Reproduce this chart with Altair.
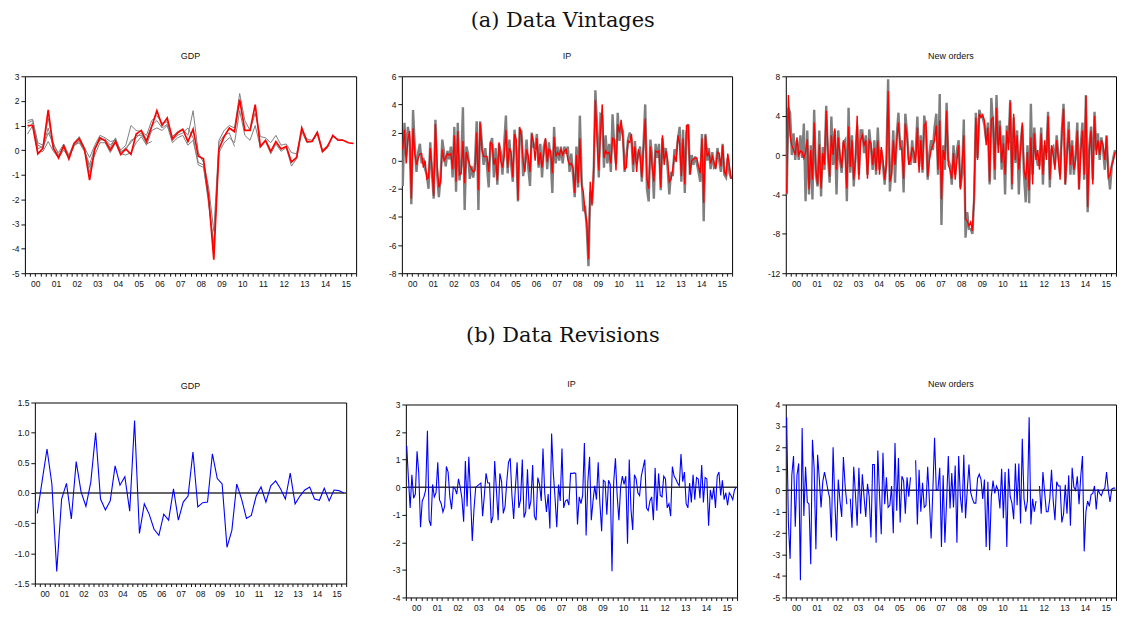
import altair as alt
import pandas as pd

FONT = "Liberation Sans"
SERIF = "DejaVu Serif"

# ---------------- GDP (quarterly, 2000Q1-2015Q4) ----------------
gdp_final = [1.0, 1.0, -0.15, 0.08, 1.64, 0.08, -0.32, 0.17,
             -0.36, 0.27, 0.47, 0.05, -1.22, 0.05, 0.5, 0.38,
             0.0, 0.35, -0.18, 0.05, -0.17, 0.65, 0.8, 0.35,
             0.95, 1.6, 1.0, 1.3, 0.45, 0.7, 0.85, 0.35,
             0.85, -0.25, -0.35, -1.9, -4.45, 0.05, 0.55, 0.9,
             0.75, 2.05, 0.8, 0.8, 1.85, 0.15, 0.4, -0.05,
             0.35, 0.05, 0.15, -0.48, -0.3, 0.9, 0.35, 0.35,
             0.72, -0.05, 0.15, 0.6, 0.4, 0.4, 0.3, 0.27]
gdp_vintage_1 = [1.2, 1.25, 0.3, 0.2, 1.3, 0.2, -0.1, 0.25,
                 -0.2, 0.3, 0.55, 0.1, -0.3, 0.2, 0.6, 0.5,
                 0.35, 0.4, 0.0, 0.2, 1.0, 0.8, 0.75, 0.6,
                 1.2, 1.4, 1.1, 1.15, 0.55, 0.75, 0.85, 0.6,
                 1.6, -0.1, -0.5, -1.5, -3.3, 0.4, 0.8, 1.0,
                 0.9, 2.3, 1.2, 0.8, 1.5, 0.55, 0.5, 0.3,
                 0.6, 0.2, 0.25, -0.1, -0.15, 0.8, 0.45, 0.4,
                 0.75, 0.0, 0.2, 0.55, 0.45, 0.42]
gdp_vintage_2 = [0.65, 1.0, -0.1, -0.05, 0.35, -0.05, -0.3, 0.0,
                 -0.3, 0.2, 0.3, -0.05, -0.7, -0.2, 0.3, 0.3,
                 -0.1, 0.3, -0.15, -0.2, -0.1, 0.3, 0.55, 0.2,
                 0.8, 0.9, 0.8, 1.0, 0.3, 0.5, 0.6, 0.2,
                 0.4, -0.6, -0.7, -2.0, -4.0, -0.1, 0.3, 0.5,
                 0.3, 1.6, 0.6, 0.4, 1.0, 0.1, 0.35, -0.15,
                 0.25, -0.05, 0.1, -0.65, -0.35, 0.75, 0.3, 0.35,
                 0.65, -0.1, 0.1]
gdp_vintage_3 = [0.9, 1.1, 0.2, 0.1, 0.7, 0.3, -0.2, 0.1,
                 -0.25, 0.15, 0.4, 0.0, -0.6, 0.1, 0.4, 0.45,
                 0.2, 0.45, -0.1, 0.1, 0.3, 0.6, 0.6, 0.45,
                 1.0, 1.2, 0.9, 1.05, 0.4, 0.6, 0.7, 0.9,
                 0.5, -0.5, -0.6, -2.2, -3.8, 0.3, 0.6, 0.7,
                 0.15]
gdp_vintage_4 = [1.1, 1.2, 0.05, 0.15, 0.9, 0.1, -0.25, 0.2,
                 -0.3, 0.25, 0.35, 0.05, -0.9, 0.0, 0.45, 0.4,
                 0.1, 0.5, -0.05, 0.0, 0.4, 0.5, 0.7, 0.25, 0.35]
gdp_revision = [-0.34, 0.2, 0.73, 0.15, -1.3, -0.1, 0.16, -0.43,
                0.52, 0.02, -0.22, 0.18, 1.0, -0.1, -0.28, -0.13,
                0.45, 0.13, 0.27, -0.3, 1.2, -0.67, -0.18, -0.35,
                -0.6, -0.7, -0.35, -0.45, 0.07, -0.45, -0.15, -0.05,
                0.68, -0.23, -0.16, -0.15, 0.65, 0.24, 0.15, -0.9,
                -0.62, 0.15, -0.1, -0.42, -0.37, -0.05, 0.1, -0.15,
                0.12, 0.2, 0.07, -0.1, 0.33, -0.18, -0.05, 0.05,
                0.1, -0.1, -0.12, 0.08, -0.13, 0.05, 0.04, 0.0]

# ---------------- IP (monthly, 2000M01-2015M12) ----------------
ip_final = [0.8, 2.2, -0.2, 1.5, 2.1, -2.7, 2.3, 0.5, -0.3, 0.2, 0.5, 0.5,
            -0.5, 0.0, -1.3, -1.2, 0.9, -0.5, -2.5, 2.6, -0.3, -1.9, -1.5, 0.8,
            0.0, 0.2, 0.5, 0.4, 0.5, -0.6, 1.8, -1.5, 2.1, -1.0, -0.9, 1.4,
            -1.6, 0.6, 0.1, -0.3, -0.6, -0.8, -0.7, 2.0, -2.1, 2.7, 0.8, 0.3,
            0.3, 0.3, -0.8, 1.3, 1.2, -0.3, 0.2, -1.4, 1.3, 0.0, -0.5, 0.3,
            2.2, -0.5, 0.9, 0.6, -1.2, 1.9, 1.5, -2.8, 2.4, 1.8, 0.0, -0.8,
            0.8, 0.3, -0.8, 1.9, 1.3, 0.0, 1.6, -0.3, 0.6, -0.5, 0.5, 1.6,
            -0.1, 0.8, 0.7, -0.9, 1.7, 0.3, 0.6, 0.4, 0.8, 0.4, 0.7, 0.8,
            0.1, -0.3, -0.2, -0.5, -2.3, 0.4, -1.6, 1.6, -1.8, -2.2, -3.6, -4.4,
            -7.0, -1.5, -3.1, -0.5, 4.3, 1.5, -0.7, 2.0, 4.0, 0.2, 0.7, 0.5,
            0.6, -0.2, 1.6, 1.5, -0.7, 2.6, 2.0, 2.9, 1.6, -0.6, -0.5, 1.4,
            1.3, 1.9, -0.3, 1.0, -0.8, 0.8, 0.3, -1.2, 0.9, 3.0, -1.3, -2.0,
            1.0, -0.4, -1.5, 0.7, 0.6, 0.7, -1.9, 1.8, -0.3, 0.7, 0.1, -1.5,
            -1.3, -0.6, 0.4, -0.1, 1.8, 1.2, -1.1, 1.6, -1.7, 2.5, 2.5, -1.0,
            0.0, 0.1, 0.2, 0.2, -0.4, -0.9, 1.6, -3.0, 1.8, 0.3, 0.6, -0.2,
            0.3, -0.1, -0.6, 0.6, 0.5, -0.4, 1.1, -0.8, -1.0, 0.5, -0.4, -1.3]
ip_vintage = [-1.8, 2.7, 0.3, 2.4, 1.5, -3.1, 3.6, 1.0, -0.8, 0.6, 1.2, -0.2,
              0.2, -0.6, -1.0, -2.0, 1.3, -0.9, -2.7, 2.9, -1.0, -2.6, -1.2, 1.5,
              0.6, -0.4, 0.7, 0.1, 1.0, -1.2, 2.4, -2.2, 2.7, -1.4, -0.3, 3.8,
              -3.5, 1.0, 0.5, -1.3, -0.4, -1.2, -0.2, 2.8, -3.5, 2.8, 1.3, -0.3,
              0.9, -0.4, -1.9, 1.2, 1.6, -1.2, 0.9, -1.7, 1.2, 0.6, -1.0, 1.2,
              3.2, -0.9, 1.5, -0.2, -1.5, 2.2, 0.8, -2.9, 2.2, 2.1, -1.1, -0.3,
              1.5, -0.5, -1.8, 2.0, 1.0, 0.9, 1.9, -0.5, 1.2, -1.2, 1.0, 1.5,
              -0.6, 1.3, 0.2, -2.3, 2.4, -0.2, 1.0, 0.0, 1.0, -0.2, 1.0, 0.5,
              1.0, -0.8, 0.5, -1.0, -2.6, 1.0, -1.9, 3.2, -1.2, -3.6, -3.2, -4.8,
              -7.5, -2.2, -3.2, -1.2, 5.0, 2.5, -1.2, 3.3, 3.2, -0.5, 1.8, -0.2,
              1.2, -0.8, 3.3, 1.0, -0.2, 3.4, 1.4, 2.4, 2.1, -0.8, 0.3, 1.5,
              2.0, 1.5, -0.8, 1.4, -0.2, 0.4, 1.0, -1.5, 1.2, 4.0, -2.0, -2.9,
              1.5, 0.3, -2.7, 1.2, 0.2, 1.2, -2.1, 1.6, 0.2, 0.9, -0.5, -2.4,
              -0.8, -1.1, 0.8, 0.4, 1.5, 2.4, -1.5, 2.2, -2.3, 2.0, 2.6, -1.0,
              0.4, -0.3, 0.3, -0.2, -0.8, -1.5, 1.9, -4.3, 1.9, 0.0, 0.9, -0.6,
              0.6, -0.5, -0.4, 0.9, 0.0, -0.8, 1.2, -1.0, -1.2, 0.2, -0.9, -1.3]
ip_revision = [1.5, 0.3, -0.75, 0.45, -0.4, -0.25, 1.3, 0.5, -1.45, -0.5, -0.35, -0.1,
               2.05, -1.2, -1.4, 0.1, -0.35, -0.2, 0.9, -0.45, -0.6, -0.9, -0.7, 0.75,
               0.55, -0.35, -0.8, 0.0, -0.05, -0.25, 0.3, 0.0, -0.4, -1.25, 0.95, -0.7,
               1.1, -0.3, -1.95, -0.8, 0.0, 0.05, 0.1, 0.15, -1.05, -0.3, 0.5, 0.15,
               0.15, -1.3, -1.05, 0.95, -0.1, -1.2, 0.5, 0.2, -0.95, -0.7, 0.2, 0.9,
               1.05, -0.3, -1.15, 0.0, 0.9, -0.75, -0.45, 1.0, -1.1, -0.9, 0.65, -0.8,
               -0.5, 0.8, -1.05, -1.2, 0.35, 0.1, -0.5, 1.4, -0.2, -0.9, -0.25, -1.5,
               1.95, 0.5, -0.4, -1.45, 0.1, -0.5, 1.4, -0.75, -0.5, -0.45, -0.65, 0.5,
               0.5, 0.52, 0.5, -1.35, -0.35, -0.6, -0.3, 1.6, -1.75, 0.2, 1.1, -1.2,
               -0.5, 0.05, -0.45, 0.9, -0.6, -1.6, 0.25, 0.2, -1.0, 0.25, 0.1, -3.05,
               0.2, 1.05, -0.3, -1.2, 0.0, 0.4, 0.1, 0.4, -2.05, 1.0, -0.8, -1.55,
               0.45, 0.3, -0.2, -0.3, 0.4, 0.7, 1.0, -0.75, -0.85, -0.5, -0.35, -1.2,
               0.7, -0.85, 0.5, -0.3, -0.35, 0.4, 0.3, -0.75, -0.6, -1.05, 0.75, 0.4,
               0.3, 0.15, 0.05, 1.2, 0.2, 0.55, -0.6, -0.75, 0.15, -0.55, 0.45, -0.45,
               0.35, 0.3, -0.4, 0.8, -0.55, 0.35, 0.3, -1.4, -0.1, -0.45, 0.0, -0.75,
               0.4, 0.55, -0.3, 0.25, -0.45, -0.2, -0.65, -0.2, -0.3, -0.45, -0.1, 0.0]

# ---------------- New orders (monthly, 2000M01-2015M12) ----------------
no_final = [-3.9, 6.1, 2.0, 1.0, 0.5, 0.0, 1.8, 0.0, 0.4, 0.3, -0.3, 0.3,
            1.6, -3.5, 0.5, -2.5, 3.3, -1.5, -3.0, 1.1, -3.4, 0.2, -1.0, 4.5,
            0.5, -2.2, 2.0, 0.0, 2.7, -1.5, 1.8, 0.0, -1.3, 1.5, 0.5, -3.4,
            2.9, -1.2, 1.5, -2.5, -0.5, 4.0, -2.5, 1.5, 2.0, 1.0, 1.5, -2.4,
            1.5, 1.2, -1.0, 0.7, -1.6, 1.5, -2.0, 0.8, -0.5, -2.5, -1.0, 6.5,
            -2.7, -2.0, 1.5, -1.0, 1.5, 3.3, 1.0, 0.5, -2.4, 3.2, 1.8, -1.0,
            -0.5, 0.8, 0.3, -0.8, 2.8, -1.8, 1.5, -1.5, 3.0, 3.3, -2.2, -0.5,
            0.5, 1.0, 1.5, 3.0, -1.5, 3.5, -4.5, 0.5, -0.5, 4.5, -1.0, -1.5,
            -2.4, 0.2, -2.5, -0.5, 1.0, -3.5, -1.0, 2.0, -6.5, -6.7, -7.2, -6.8,
            -7.7, -4.0, 3.8, -0.5, 4.2, 3.8, 4.1, 3.5, 1.0, 2.8, -2.7, 3.6,
            3.8, -1.5, 4.8, 0.2, 3.0, -0.8, 1.2, -2.0, 2.5, 0.5, 5.4, -3.0,
            4.2, -0.5, 2.0, -1.5, 0.5, 3.3, -1.5, -2.5, 0.3, -3.6, 1.8, -3.0,
            2.2, -0.5, 0.5, -1.5, 2.2, -2.0, 1.5, -0.5, 4.0, -2.5, 1.0, 0.0,
            -1.5, 1.5, -0.5, -2.5, 2.0, 4.7, -3.0, 0.0, 2.6, -1.0, 1.0, -1.5,
            -0.5, 2.5, -3.5, 0.3, 2.5, -2.0, 6.0, -5.3, 0.5, 2.5, -3.0, 4.0,
            0.0, 1.5, 0.0, 1.5, 1.0, -0.5, 1.9, -2.3, -2.0, -1.0, -0.5, 0.3]
no_vintage = [-4.0, 4.8, 4.3, 0.0, 2.2, -0.5, 1.5, -0.5, 2.0, -0.3, 3.2, -4.7,
              2.5, -4.0, 1.0, -4.5, 4.6, -2.0, -3.2, 2.5, -4.2, 0.8, -1.5, 5.0,
              0.0, -2.8, 3.9, -1.0, 2.5, -4.0, 2.5, -0.5, -1.8, 1.2, 1.5, -4.7,
              4.8, -1.8, 2.0, -3.2, -0.3, 3.0, -2.0, 2.5, 2.5, 0.2, 2.0, -2.0,
              2.6, 0.8, -1.5, 1.5, -2.0, 2.8, -1.5, 0.5, -1.0, -3.0, -0.5, 7.7,
              -3.7, -1.5, 2.5, -2.8, 2.0, 4.3, 0.5, 1.5, -3.8, 4.2, 2.2, -0.5,
              -1.0, 1.5, -0.8, 0.2, 3.9, -1.2, 2.0, -1.8, 4.0, 2.5, -2.5, 0.2,
              1.5, 0.5, 2.8, 4.2, -2.0, 6.2, -7.1, 1.0, -1.5, 5.3, -0.5, -1.0,
              -3.0, 1.0, -2.0, 0.5, 1.5, -3.3, -2.0, 3.6, -8.4, -5.8, -7.5, -7.5,
              -8.0, -4.5, 4.3, -0.3, 4.6, 4.0, 3.8, 3.0, 1.5, 3.3, -3.0, 5.8,
              3.0, -2.5, 6.1, 1.0, 3.5, -1.5, 2.0, -4.0, 3.0, 1.2, 5.6, -3.5,
              3.8, -0.8, 2.5, -4.0, 1.0, 3.0, -2.0, -4.8, 1.0, -4.9, 5.2, -2.0,
              2.8, 0.0, -1.0, -1.0, 2.8, -3.0, 1.0, 0.2, 4.4, -3.3, 0.5, 0.8,
              -1.0, 2.0, 0.0, -2.0, 2.5, 5.2, -3.0, 0.5, 3.4, -2.0, 1.5, -2.0,
              0.0, 3.3, -3.5, 1.0, 3.3, -2.5, 6.1, -5.8, 1.0, 2.9, -2.5, 4.4,
              0.5, 2.2, -0.5, 1.8, 0.5, -1.5, 2.0, -1.5, -3.5, -1.2, -0.2, 0.5]
no_revision = [3.4, -1.5, -3.2, 0.7, 1.6, -1.7, 0.7, 1.25, -4.2, 2.9, -1.2, 1.1,
               -0.55, -0.65, -3.45, 2.35, 1.0, -2.75, 1.65, 0.5, -0.8, 0.4, 0.85, 0.45,
               0.0, -0.35, -2.2, 2.0, -0.5, -2.35, 0.5, -0.5, -1.25, 1.55, 0.2, -0.65,
               None, -0.4, -1.75, 1.1, -0.2, -1.65, 1.05, -1.1, 0.75, -0.3, -1.25, 0.3,
               -0.3, -2.2, 1.2, 1.2, -2.45, 1.85, -0.2, -2.05, 1.75, -0.65, 0.6, -0.8,
               -0.7, 0.2, -2.0, 2.2, -0.95, 1.5, -1.5, 0.65, 0.45, -1.1, 0.6, -0.3,
               0.6, None, None, 1.4, -1.6, 0.95, -1.0, 0.35, -0.8, -0.7, 1.1, -0.5,
               -2.25, 0.0, 2.45, 0.0, 0.05, 1.05, -2.65, 0.7, -2.45, -0.5, 1.6, -0.85,
               0.8, -0.8, 1.15, -2.45, 1.6, -0.3, -1.05, 1.65, -1.3, 0.0, 1.2, -0.1,
               -0.4, -0.6, -0.6, 0.55, 0.75, 0.5, -0.4, 0.5, -2.65, 0.4, -2.8, -0.3,
               0.45, -0.15, 0.2, 0.0, -0.85, 1.0, -1.3, 0.85, -2.65, 1.0, -0.3, -0.6,
               -1.35, 1.25, -0.7, 1.25, -1.55, 2.4, -0.4, -1.0, -0.5, 3.4, -1.6, -0.4,
               -1.0, -0.5, None, 0.2, -1.1, 0.85, -0.1, -1.0, -1.0, -0.4, 0.95, -0.5,
               -1.4, 0.4, 0.2, 0.2, -1.5, -1.1, 0.25, -1.1, 0.7, -1.65, 1.05, 0.15,
               0.0, 0.65, -0.65, 0.65, 1.6, -2.85, -1.0, -0.5, -0.75, -0.2, -0.15, 0.2,
               -0.9, 0.05, -0.15, -0.25, 0.0, 0.1, 0.85, 0.0, -0.55, 0.05, 0.1, 0.1]

QTICKS = [2000 + k / 4 for k in range(65)]
# the label of year Y sits at the tick that closes it, shifted back by half a year
XLAB = "datum.value % 1 == 0 && datum.value > 2000 ? format(datum.value - 2001, '02d') : ''"


def frame(values, per_year, name):
    rows, seg = [], 0
    for i, v in enumerate(values):
        if v is None:
            seg += 1
            continue
        rows.append({"t": 2000 + (i + 0.5) / per_year, "v": v, "seg": f"{name}_{seg}"})
    return pd.DataFrame(rows)


def x_enc(width):
    return alt.X("t:Q", scale=alt.Scale(domain=[2000, 2016], nice=False, zero=False),
                 axis=alt.Axis(values=QTICKS, labelExpr=XLAB, labelOffset=-width / 32,
                               tickSize=3, labelOverlap=False, labelFlush=False,
                               labelPadding=3, grid=False, domain=False, title=None,
                               labelFontSize=8.5, labelFont=FONT, labelColor="#111",
                               tickColor="#111"))


def y_enc(domain, ticks, extent, decimals=False):
    expr = ("replace(format(datum.value, '.1f'), '\u2212', '-')" if decimals
            else "toString(datum.value)")
    return alt.Y("v:Q", scale=alt.Scale(domain=domain, nice=False, zero=False),
                 axis=alt.Axis(values=ticks, labelExpr=expr, tickSize=4, grid=False,
                               domain=False, title=None, labelFontSize=8.5, labelFont=FONT,
                               labelColor="#111", tickColor="#111", labelPadding=2,
                               minExtent=extent, maxExtent=extent))


def panel(layers, title, width, height, toff, domain, ticks, extent, decimals=False, zero=False):
    X = x_enc(width)
    Y = y_enc(domain, ticks, extent, decimals)
    charts = []
    if zero:
        charts.append(alt.Chart(pd.DataFrame({"v": [0.0]})).mark_rule(
            color="#333333", strokeWidth=1.4).encode(y=Y))
    for df, color, sw in layers:
        charts.append(alt.Chart(df).mark_line(color=color, strokeWidth=sw, clip=True).encode(
            x=X, y=Y, detail="seg:N"))
    return alt.layer(*charts).properties(
        width=width, height=height,
        title=alt.TitleParams(title, font=FONT, fontSize=9, fontWeight="normal",
                              color="#111", offset=toff, anchor="middle"))


GRAY = "#7f7f7f"
gdp_gray = pd.concat([frame(gdp_vintage_1, 4, "g1"), frame(gdp_vintage_2, 4, "g2"),
                      frame(gdp_vintage_3, 4, "g3"), frame(gdp_vintage_4, 4, "g4")])

p1 = panel([(gdp_gray, GRAY, 1.0), (frame(gdp_final, 4, "f"), "#ff0000", 1.7)],
           "GDP", 333, 198, 11, [-5, 3], list(range(-5, 4)), 16)
p2 = panel([(frame(ip_vintage, 12, "v"), GRAY, 2.4), (frame(ip_final, 12, "f"), "#ff0000", 1.4)],
           "IP", 332, 198, 11, [-8, 6], list(range(-8, 7, 2)), 24)
p3 = panel([(frame(no_vintage, 12, "v"), GRAY, 2.4), (frame(no_final, 12, "f"), "#ff0000", 1.4)],
           "New orders", 332, 198, 11, [-12, 8], list(range(-12, 9, 4)), 32)

q1 = panel([(frame(gdp_revision, 4, "r"), "#0000ff", 1.1)],
           "GDP", 313, 182, 8, [-1.5, 1.5], [-1.5, -1.0, -0.5, 0.0, 0.5, 1.0, 1.5], 26,
           decimals=True, zero=True)
q2 = panel([(frame(ip_revision, 12, "r"), "#0000ff", 1.1)],
           "IP", 333, 194, 12, [-4, 3], list(range(-4, 4)), 37, zero=True)
q3 = panel([(frame(no_revision, 12, "r"), "#0000ff", 1.1)],
           "New orders", 332, 194, 12, [-5, 4], list(range(-5, 5)), 26, zero=True)


def anchor():
    # invisible 1px placeholder used only to offset the lower-left panel
    return alt.Chart(pd.DataFrame({"v": [0]})).mark_point(opacity=0, size=0).encode(
        x=alt.value(0), y=alt.value(0)).properties(
        width=1, height=1, view=alt.ViewBackground(strokeOpacity=0))


q1_col = alt.concat(anchor(), q1, columns=1, align="none", spacing=-25)
q1_block = alt.concat(anchor(), q1_col, columns=2, align="none", spacing=-18)

row1 = alt.concat(p1, p2, p3, columns=3, align="none", spacing=20).properties(
    title=alt.TitleParams("(a) Data Vintages", font=SERIF, fontSize=21, fontWeight="normal",
                          color="#111", anchor="middle", offset=21))
row2 = alt.concat(q1_block, q2, q3, columns=3, align="none", spacing=20).properties(
    title=alt.TitleParams("(b) Data Revisions", font=SERIF, fontSize=21, fontWeight="normal",
                          color="#111", anchor="middle", offset=33))

chart = alt.concat(row1, row2, columns=1, align="none", spacing=37).properties(
    padding={"left": 0, "top": 0, "right": 0, "bottom": 0}
).configure_view(stroke="black", strokeWidth=1)

chart.save("out.html", embed_options={"renderer": "svg", "actions": False})
